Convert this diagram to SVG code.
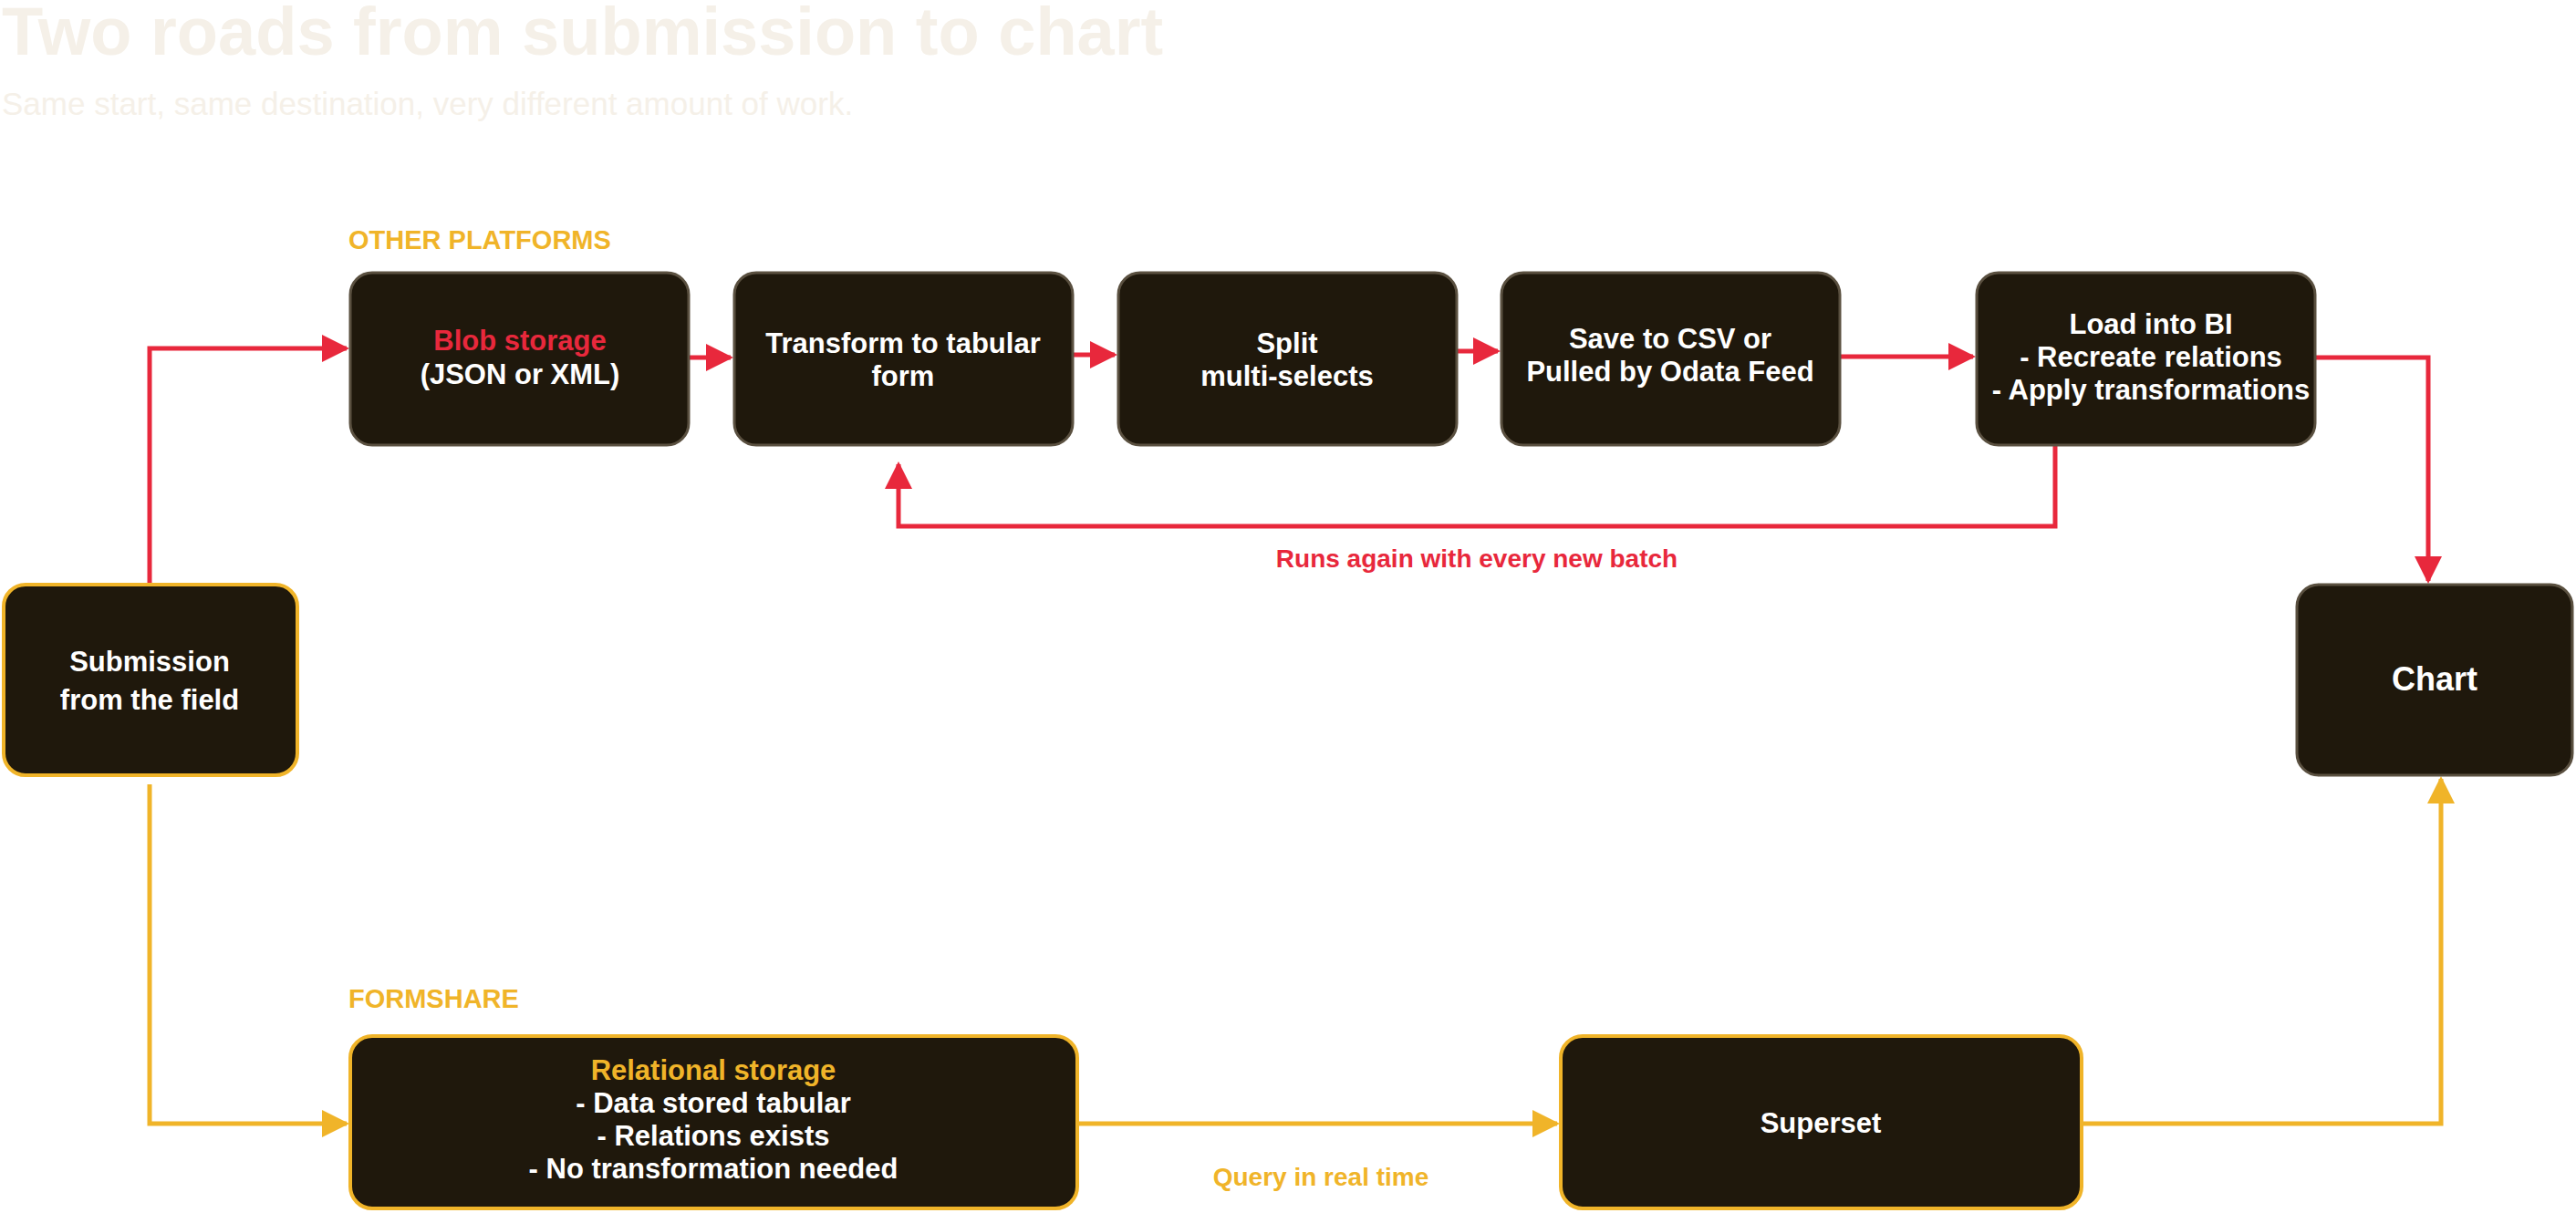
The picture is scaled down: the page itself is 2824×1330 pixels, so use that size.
<svg xmlns="http://www.w3.org/2000/svg" width="2824" height="1330" viewBox="0 0 2824 1330">
<style>
text{font-family:"Liberation Sans",Arial,sans-serif;font-weight:bold;text-anchor:middle}
.n{fill:#1f180c;stroke:#5a5040;stroke-width:3}
.ny{fill:#1f180c;stroke:#f0b429;stroke-width:4}
.t{fill:#ffffff;font-size:31px}
.r{fill:none;stroke:#e8283c;stroke-width:5}
.y{fill:none;stroke:#f0b429;stroke-width:5}
</style>
<defs>
<marker id="ar" viewBox="0 0 10 10" refX="9" refY="5" markerWidth="6" markerHeight="6" markerUnits="strokeWidth" orient="auto"><path d="M0,0L10,5L0,10z" fill="#e8283c"/></marker>
<marker id="ay" viewBox="0 0 10 10" refX="9" refY="5" markerWidth="6" markerHeight="6" markerUnits="strokeWidth" orient="auto"><path d="M0,0L10,5L0,10z" fill="#f0b429"/></marker>
</defs>
<rect width="2824" height="1330" fill="#ffffff"/>
<text x="2" y="60" style="text-anchor:start;font-size:74px;fill:#f5f0e8">Two roads from submission to chart</text>
<text x="2" y="126" style="text-anchor:start;font-size:35px;font-weight:normal;fill:#f5f0e8">Same start, same destination, very different amount of work.</text>
<text x="382" y="273" style="text-anchor:start;font-size:29px;fill:#f0b429">OTHER PLATFORMS</text>
<text x="382" y="1105" style="text-anchor:start;font-size:29px;fill:#f0b429">FORMSHARE</text>
<g id="connectors">
<path class="r" d="M164,641V382H380" marker-end="url(#ar)"/>
<path class="r" d="M755,392H801" marker-end="url(#ar)"/>
<path class="r" d="M1176,389H1222" marker-end="url(#ar)"/>
<path class="r" d="M1597,385H1642" marker-end="url(#ar)"/>
<path class="r" d="M2017,391H2163" marker-end="url(#ar)"/>
<path class="r" d="M2538,392H2662V637" marker-end="url(#ar)"/>
<path class="r" d="M2253,488V577H985V509" marker-end="url(#ar)"/>
<path class="y" d="M164,860V1232H380" marker-end="url(#ay)"/>
<path class="y" d="M1181,1232H1707" marker-end="url(#ay)"/>
<path class="y" d="M2282,1232H2676V854" marker-end="url(#ay)"/>
<text x="1619" y="622" style="font-size:28px;fill:#e8283c">Runs again with every new batch</text>
<text x="1448" y="1300" style="font-size:28px;fill:#f0b429">Query in real time</text>
</g>
<g id="submission"><rect class="ny" x="4" y="641" width="322" height="209" rx="24"/><text class="t" x="164" y="736">Submission</text><text class="t" x="164" y="778">from the field</text></g>
<g id="blob"><rect class="n" x="384" y="299" width="371" height="189" rx="24"/><text class="t" x="570" y="384" style="fill:#e8283c">Blob storage</text><text class="t" x="570" y="421">(JSON or XML)</text></g>
<g id="transform"><rect class="n" x="805" y="299" width="371" height="189" rx="24"/><text class="t" x="990" y="387">Transform to tabular</text><text class="t" x="990" y="423">form</text></g>
<g id="split"><rect class="n" x="1226" y="299" width="371" height="189" rx="24"/><text class="t" x="1411" y="387">Split</text><text class="t" x="1411" y="423">multi-selects</text></g>
<g id="save"><rect class="n" x="1646" y="299" width="371" height="189" rx="24"/><text class="t" x="1831" y="382">Save to CSV or</text><text class="t" x="1831" y="418">Pulled by Odata Feed</text></g>
<g id="load"><rect class="n" x="2167" y="299" width="371" height="189" rx="24"/><text class="t" x="2358" y="366">Load into BI</text><text class="t" x="2358" y="402">- Recreate relations</text><text class="t" x="2358" y="438">- Apply transformations</text></g>
<g id="chart"><rect class="n" x="2518" y="641" width="302" height="209" rx="24"/><text x="2669" y="757" style="font-size:36px;fill:#ffffff">Chart</text></g>
<g id="relational"><rect class="ny" x="384" y="1136" width="797" height="189" rx="24"/><text class="t" x="782" y="1184" style="fill:#f0b429">Relational storage</text><text class="t" x="782" y="1220">- Data stored tabular</text><text class="t" x="782" y="1256">- Relations exists</text><text class="t" x="782" y="1292">- No transformation needed</text></g>
<g id="superset"><rect class="ny" x="1711" y="1136" width="571" height="189" rx="24"/><text class="t" x="1996" y="1242">Superset</text></g>
</svg>
